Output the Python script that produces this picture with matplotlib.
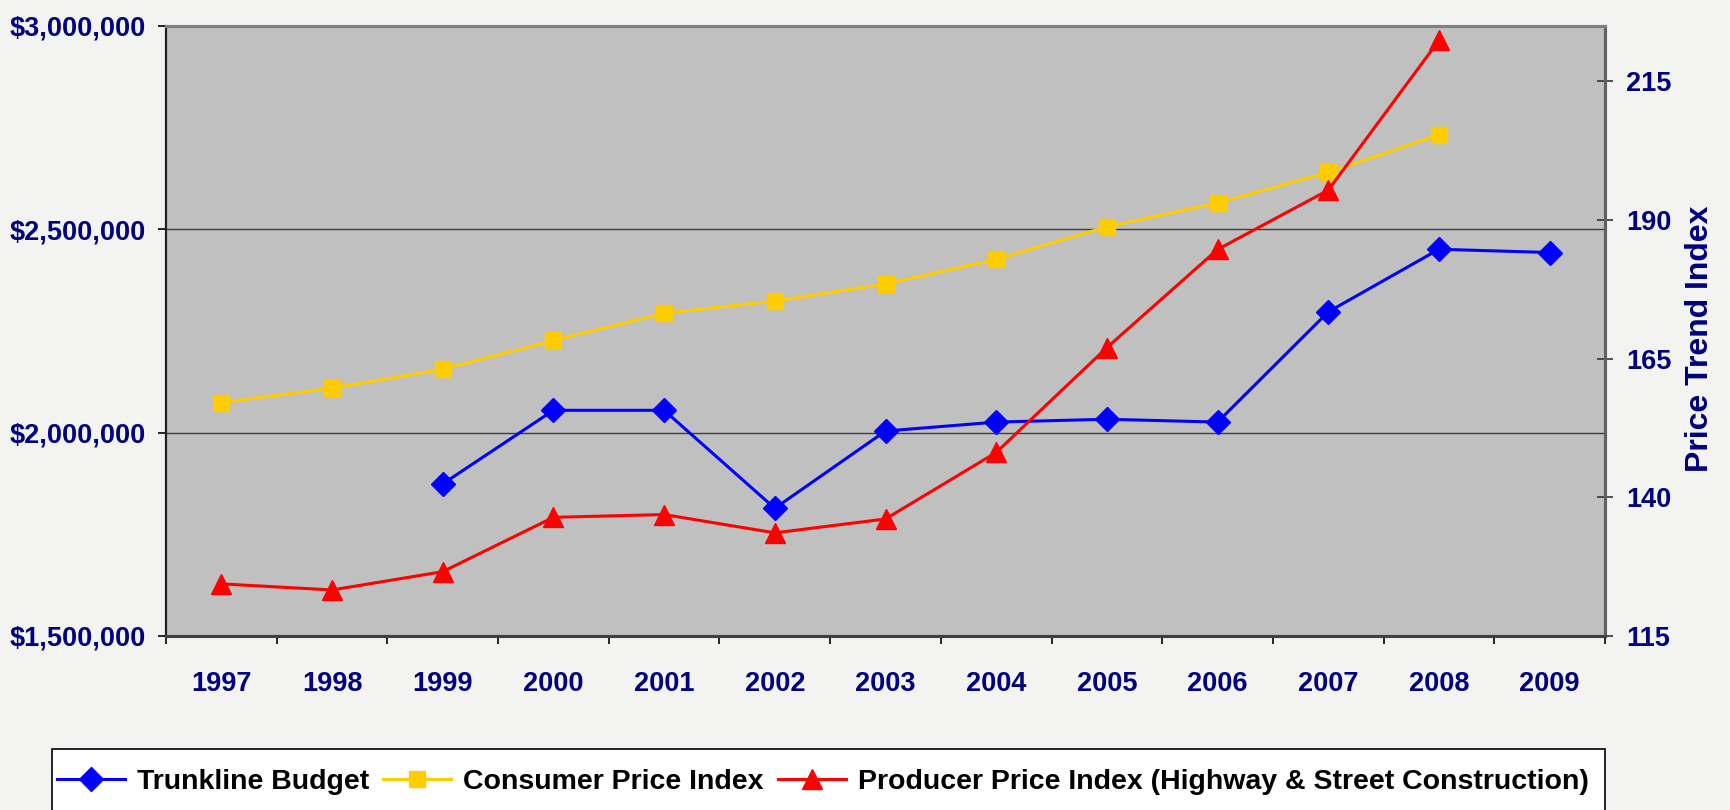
import numpy as np
import matplotlib
matplotlib.use("Agg")
import matplotlib.pyplot as plt
from matplotlib.patches import Rectangle
from matplotlib.ticker import FuncFormatter, FixedLocator

# Data
years = ["1997", "1998", "1999", "2000", "2001", "2002", "2003",
         "2004", "2005", "2006", "2007", "2008", "2009"]
trunkline_budget = [np.nan, np.nan, 1874000, 2055000, 2055000, 1814000, 2004000,
                    2026000, 2033000, 2026000, 2297000, 2451000, 2443000]
consumer_price = [157.1, 159.7, 163.1, 168.3, 173.2, 175.4, 178.5,
                  182.9, 188.8, 193.1, 198.6, 205.4, np.nan]
producer_price = [124.4, 123.3, 126.6, 136.4, 136.9, 133.6, 136.1,
                  148.1, 167.0, 184.7, 195.4, 222.4, np.nan]

left_ticks = [1500000, 2000000, 2500000, 3000000]
right_ticks = [115, 140, 165, 190, 215]

NAVY = "#000080"
BG = "#F3F3F1"
W, H = 1731, 810
TICK_SIZE = 19.5

plt.rcParams['font.family'] = ['Liberation Sans', 'DejaVu Sans']

fig = plt.figure(figsize=(W / 100, H / 100), dpi=100, facecolor=BG)
ax = fig.add_axes([166 / W, 1 - 636 / H, (1605 - 166) / W, (636 - 26) / H])
ax.set_facecolor("#C0C0C0")
ax2 = ax.twinx()

x = np.arange(len(years))

# left axis: budget in dollars
l1, = ax.plot(x, trunkline_budget, color="#0000FF", lw=2.2, marker="D", ms=12.5,
              label="Trunkline Budget", zorder=5)
ax.set_ylim(1500000, 3000000)
ax.set_xlim(-0.5, len(years) - 0.5)
ax.yaxis.set_major_locator(FixedLocator(left_ticks))
ax.yaxis.set_major_formatter(FuncFormatter(lambda v, p: "${:,.0f}".format(v)))
for v in left_ticks[1:-1]:
    ax.axhline(v, color="#3c3c3c", lw=1.0, zorder=1)

# right axis: price indices
l2, = ax2.plot(x, consumer_price, color="#FFCC00", lw=2.2, marker="s", ms=11,
               label="Consumer Price Index", zorder=5)
l3, = ax2.plot(x, producer_price, color="#FF0000", lw=2.2, marker="^", ms=14,
               label="Producer Price Index (Highway & Street Construction)", zorder=5)
ax2.set_ylim(115, 225)
ax2.yaxis.set_major_locator(FixedLocator(right_ticks))
ax2.set_xlim(-0.5, len(years) - 0.5)

# category axis: ticks between categories, labels at centres
ax.xaxis.set_major_locator(FixedLocator(np.arange(-0.5, len(years), 1.0)))
ax.xaxis.set_major_formatter(FuncFormatter(lambda v, p: ""))
ax.xaxis.set_minor_locator(FixedLocator(x))
ax.set_xticklabels(years, minor=True)
ax.tick_params(axis="x", which="major", direction="out", length=6, width=1.2, color="black")
ax.tick_params(axis="x", which="minor", length=0, pad=25, labelsize=TICK_SIZE,
               labelcolor=NAVY)

ax.tick_params(axis="y", direction="out", length=6, width=1.2, color="black",
               pad=8.4, labelsize=TICK_SIZE, labelcolor=NAVY)
ax2.tick_params(axis="y", direction="inout", length=11.5, width=1.2, color="#333333",
                pad=9.4, labelsize=TICK_SIZE, labelcolor=NAVY)
for lab in (ax.get_xticklabels(minor=True) + ax.get_yticklabels()
            + ax2.get_yticklabels()):
    lab.set_fontweight("bold")

for a in (ax, ax2):
    a.spines["top"].set_color("#808080")
    a.spines["top"].set_linewidth(2.2)
    a.spines["right"].set_color("#606060")
    a.spines["right"].set_linewidth(2.2)
    a.spines["left"].set_color("#202020")
    a.spines["left"].set_linewidth(1.5)
    a.spines["bottom"].set_color("#404040")
    a.spines["bottom"].set_linewidth(2.2)

fig.text(1700 / W, 1 - 339 / H, "Price Trend Index", rotation=90, ha="center",
         va="center", fontsize=23, fontweight="bold", color=NAVY)

# legend box runs off the bottom of the picture
fig.patches.append(Rectangle((52 / W, -0.05), (1605 - 52) / W, 0.05 + (810 - 749) / H,
                             transform=fig.transFigure, facecolor="white",
                             edgecolor="black", lw=1.2, zorder=0))
leg = fig.legend(handles=[l1, l2, l3], loc="center left",
                 bbox_to_anchor=(57 / W, 1 - 782 / H), ncol=3,
                 prop={"weight": "bold", "size": 20.5},
                 frameon=False, handlelength=2.39, handletextpad=0.42,
                 columnspacing=0.49, borderpad=0, borderaxespad=0)

fig.savefig("out.png", dpi=100, facecolor=BG)
